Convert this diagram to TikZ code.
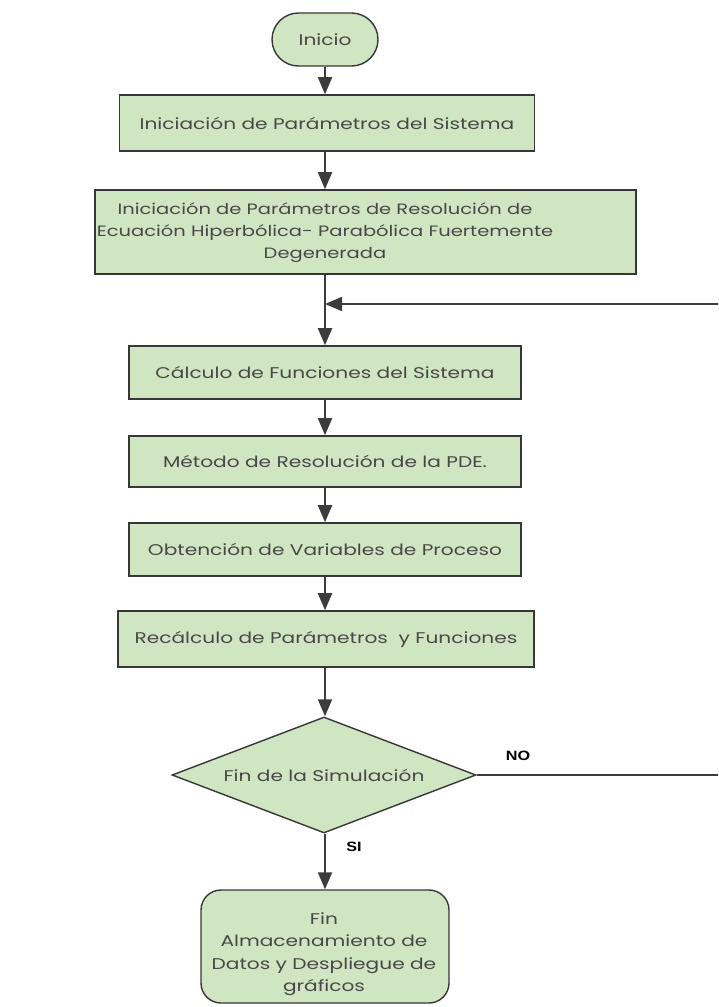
\documentclass[tikz,border=0pt]{standalone}
\usepackage{fontspec}
\setmainfont[FakeStretch=1.3]{Poppins}
\newfontfamily\lblfont[FakeStretch=1.2]{Liberation Sans}
\usetikzlibrary{shapes.geometric,shapes.misc,arrows.meta}
\definecolor{boxfill}{RGB}{208,229,194}
\definecolor{boxline}{RGB}{55,55,55}
\definecolor{txt}{RGB}{72,72,72}
\definecolor{conn}{RGB}{60,60,60}
\tikzset{
  every node/.style={font=\fontsize{15.5}{22.5}\selectfont, text=txt},
  procbox/.style={draw=boxline, line width=1.6pt, fill=boxfill, rectangle, inner sep=0pt, align=center},
  termbox/.style={draw=boxline, line width=1.4pt, fill=boxfill, rounded rectangle, inner sep=0pt},
  endbox/.style={draw=boxline, line width=1.4pt, fill=boxfill, rectangle, rounded corners=20pt, inner sep=0pt, align=center},
  decbox/.style={draw=boxline, line width=1.4pt, fill=boxfill, diamond, inner sep=0pt, aspect=2.62},
  conn/.style={draw=conn, line width=2pt, -{Triangle[length=17pt,width=14pt]}},
  plain/.style={draw=conn, line width=2pt},
  lbl/.style={font=\lblfont\bfseries\fontsize{13.5}{15}\selectfont, text=black}
}
\begin{document}
\begin{tikzpicture}[x=1pt,y=-1pt]
\useasboundingbox (0,0) rectangle (718,1007);
\begin{scope}
\clip (0,0) rectangle (718,1007);
\node[termbox, minimum width=106pt, minimum height=53pt] (ini) at (325,39.5) {Inicio};
\node[procbox, minimum width=415pt, minimum height=56pt] (b1) at (327,123) {Iniciación de Parámetros del Sistema};
\node[procbox, minimum width=541pt, minimum height=84pt] (b2) at (365.5,232) {};
\node[align=center, font=\fontsize{15}{22}\selectfont] (b2t) at (325,233) {Iniciación de Parámetros de Resolución de\\Ecuación Hiperbólica- Parabólica Fuertemente\\Degenerada};
\node[procbox, minimum width=392pt, minimum height=53pt] (b3) at (325,372.5) {Cálculo de Funciones del Sistema};
\node[procbox, minimum width=392pt, minimum height=51pt] (b4) at (325,461.5) {Método de Resolución de la PDE.};
\node[procbox, minimum width=392pt, minimum height=53pt] (b5) at (325,549.5) {Obtención de Variables de Proceso};
\node[procbox, minimum width=416pt, minimum height=56pt] (b6) at (326,639) {Recálculo de Parámetros\ \ y Funciones};
\node[decbox, minimum width=304pt, minimum height=116pt] (dec) at (324,775) {Fin de la Simulación};
\node[endbox, minimum width=248pt, minimum height=113pt] (fin) at (325,946.5) {};
\node[align=center] (fint) at (324,954) {Fin\\Almacenamiento de\\Datos y Despliegue de\\gráficos};
\coordinate (join) at (325,304);
\coordinate (rt) at (745,775);
\draw[conn] (ini.south) -- (b1.north -| ini.south);
\draw[conn] (b1.south -| ini.south) -- (b2.north -| ini.south);
\draw[conn] (b2.south -| ini.south) -- (b3.north);
\draw[conn] (rt) |- (join);
\draw[conn] (b3.south) -- (b4.north);
\draw[conn] (b4.south) -- (b5.north);
\draw[conn] (b5.south) -- (b5.south |- b6.north);
\draw[conn] (b6.south -| b5.south) -- (dec.north -| b5.south);
\draw[plain] (dec.east) -- (rt);
\draw[conn] (dec.south -| b5.south) -- (fin.north -| b5.south);
\node[lbl] (no) at (518,756) {NO};
\node[lbl] (si) at (354,847) {SI};
\end{scope}
\end{tikzpicture}
\end{document}
